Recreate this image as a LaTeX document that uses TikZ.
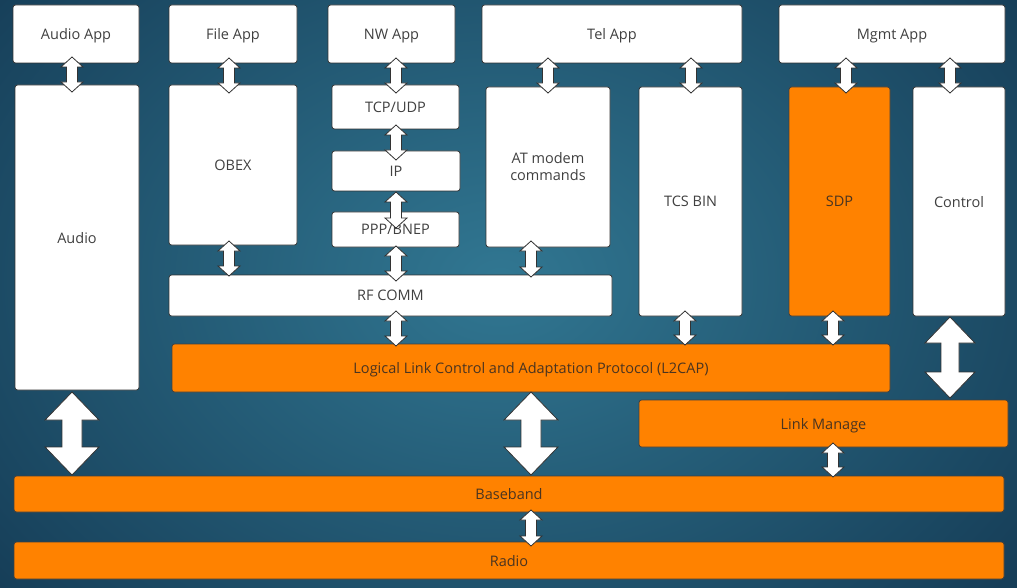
\documentclass[tikz,border=0pt]{standalone}
\usepackage{fontspec}
\setmainfont{Open Sans}
\begin{document}
\begin{tikzpicture}[x=1pt,y=-1pt,
  every node/.style={font=\fontsize{14.5}{17}\selectfont, align=center, inner sep=0pt},
  wbox/.style={draw=black!80, line width=0.8pt, rounded corners=2.5pt, fill=white, text=black!75, text depth=0pt},
  obox/.style={draw=black!75, line width=0.8pt, rounded corners=2.5pt, fill=orangeC, text=brownT, text depth=0pt},
  arr/.style={draw=black!80, line width=0.8pt, fill=white, line join=miter}]
\definecolor{orangeC}{HTML}{FF8200}
\definecolor{brownT}{HTML}{4A3420}
\definecolor{bgOut}{HTML}{163E58}
\definecolor{bgIn}{HTML}{317792}
\useasboundingbox (0,0) rectangle (1017,588);
\shade[inner color=bgIn, outer color=bgOut] (-150,-200) rectangle (1150,760);
% box macro: name, x1, y1, x2, y2, style, text
\newcommand\bx[7]{\node[#6, minimum width={(#4-#2)*1pt}, minimum height={(#5-#3)*1pt}] (#1) at ({(#2+#4)/2},{(#3+#5)/2}) {#7};}
% double block arrow: x, ytop, ybot, half head, half shaft, head length
\newcommand\darr[6]{\draw[arr] (#1,#2) -- ({#1+#4},{#2+#6}) -- ({#1+#5},{#2+#6}) -- ({#1+#5},{#3-#6}) -- ({#1+#4},{#3-#6}) -- (#1,#3) -- ({#1-#4},{#3-#6}) -- ({#1-#5},{#3-#6}) -- ({#1-#5},{#2+#6}) -- ({#1-#4},{#2+#6}) -- cycle;}
% top apps
\bx{audioapp}{13}{5}{139}{63}{wbox}{Audio App}
\bx{fileapp}{169}{5}{297}{63}{wbox}{File App}
\bx{nwapp}{328}{5}{455}{63}{wbox}{NW App}
\bx{telapp}{482}{5}{742}{63}{wbox}{Tel App}
\bx{mgmtapp}{779}{5}{1005}{63}{wbox}{Mgmt App}
% middle
\bx{audio}{15}{85}{139}{390}{wbox}{Audio}
\bx{obex}{169}{85}{297}{245}{wbox}{OBEX}
\bx{tcp}{332}{85}{459}{129}{wbox}{TCP/UDP}
\bx{ip}{332}{151}{460}{191}{wbox}{IP}
\bx{ppp}{332}{212}{459}{247}{wbox}{PPP/BNEP}
\bx{at}{486}{87}{610}{247}{wbox}{}
\node[text=black!75] (attext) at (548,167) {AT modem\\commands};
\bx{tcs}{639}{87}{742}{316}{wbox}{TCS BIN}
\bx{sdp}{789}{87}{890}{316}{obox}{SDP}
\bx{control}{913}{87}{1005}{316}{wbox}{Control}
\bx{rfcomm}{169}{275}{612}{316}{wbox}{RF COMM}
\bx{l2cap}{172}{344}{890}{392}{obox}{Logical Link Control and Adaptation Protocol (L2CAP)}
\bx{lm}{639}{400}{1008}{447}{obox}{Link Manage}
\bx{baseband}{14}{476}{1004}{512}{obox}{Baseband}
\bx{radio}{14}{542}{1004}{579}{obox}{Radio}
% small arrows
\darr{72}{57}{92}{11}{5.5}{10}
\darr{229}{58}{93}{11}{5.5}{10}
\darr{396}{58}{93}{11}{5.5}{10}
\darr{548}{58}{93}{11}{5.5}{10}
\darr{691}{58}{93}{11}{5.5}{10}
\darr{846}{58}{93}{11}{5.5}{10}
\darr{950}{58}{93}{11}{5.5}{10}
\darr{396}{125}{160}{11}{5.5}{10}
\darr{396}{192}{228}{11}{5.5}{10}
\darr{396}{246}{281}{11}{5.5}{10}
\darr{229}{241}{276}{11}{5.5}{10}
\darr{531}{241}{277}{11}{5.5}{10}
\darr{396}{311}{346}{11}{5.5}{10}
\darr{685}{311}{345}{11}{5.5}{10}
\darr{833}{311}{345}{11}{5.5}{10}
\darr{833}{443}{477}{11}{5.5}{10}
\darr{531}{510}{546}{11}{5.5}{10}
% big arrows
\darr{950}{317}{398}{25}{9}{26}
\darr{72}{392}{475}{27}{10}{28}
\darr{531}{392}{475}{27}{10}{28}
\end{tikzpicture}
\end{document}
